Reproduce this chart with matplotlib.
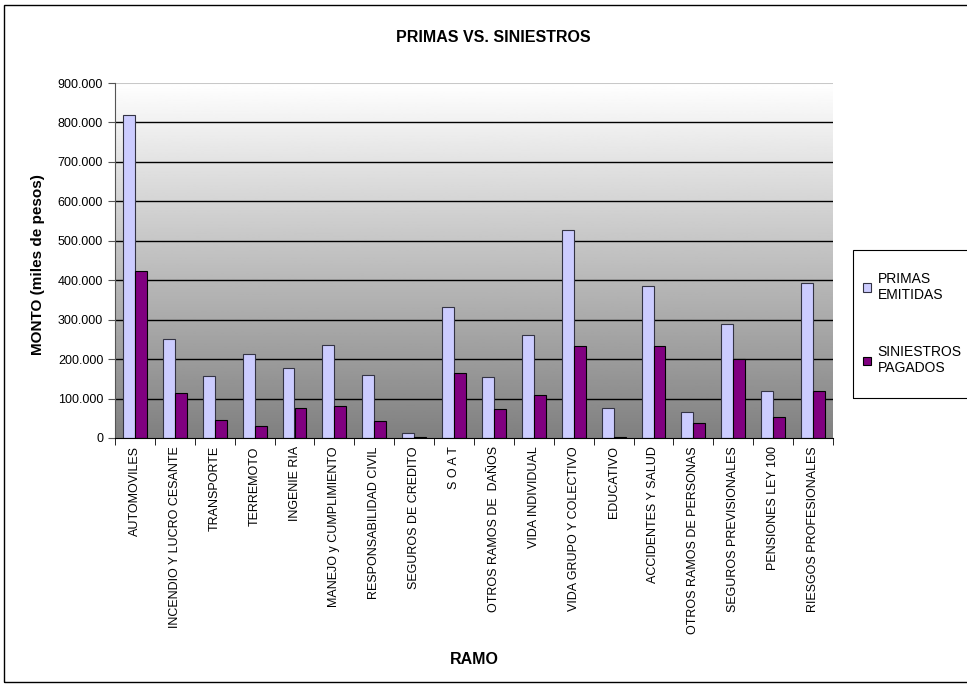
import numpy as np
import matplotlib
matplotlib.use("Agg")
import matplotlib.pyplot as plt
from matplotlib.ticker import FuncFormatter, FixedLocator
from matplotlib.patches import Rectangle

plt.rcParams['font.family'] = ['Liberation Sans', 'DejaVu Sans']

# datos (miles de pesos)
ramos = ["AUTOMOVILES", "INCENDIO Y LUCRO CESANTE", "TRANSPORTE", "TERREMOTO",
         "INGENIE RIA", "MANEJO y CUMPLIMIENTO", "RESPONSABILIDAD CIVIL",
         "SEGUROS DE CREDITO", "S O A T", "OTROS RAMOS DE  DAÑOS",
         "VIDA INDIVIDUAL", "VIDA GRUPO Y COLECTIVO", "EDUCATIVO",
         "ACCIDENTES Y SALUD", "OTROS RAMOS DE PERSONAS",
         "SEGUROS PREVISIONALES", "PENSIONES LEY 100", "RIESGOS PROFESIONALES"]
primas = [818000, 252000, 156000, 212000, 177000, 235000, 159000, 12000, 331000,
          154000, 261000, 528000, 75000, 386000, 65000, 288000, 119000, 394000]
siniestros = [424000, 114000, 46000, 30000, 76000, 81000, 43000, 2500, 165000,
              73500, 109000, 232000, 2500, 232000, 38000, 200000, 53000, 119000]

fig = plt.figure(figsize=(9.67, 6.87), dpi=100)
fig.patch.set_facecolor("white")

# marco exterior
fig.patches.append(Rectangle((4/967, 5/687), 1.2, 1 - 10/687, transform=fig.transFigure,
                             fill=False, edgecolor="black", linewidth=1.0))
# caja de la leyenda
fig.patches.append(Rectangle((853/967, 1 - 398/687), 0.3, 148/687, transform=fig.transFigure,
                             fill=False, edgecolor="black", linewidth=0.8))

ax = fig.add_axes([115/967, 1 - 438/687, 718/967, 355/687])
n = len(ramos)
x = np.arange(n)
w = 0.3

# fondo degradado
grad = np.linspace(1.0, 0.5, 256).reshape(-1, 1)
ax.imshow(grad, cmap="gray", vmin=0, vmax=1, aspect="auto",
          extent=[-0.5, n - 0.5, 0, 900000], zorder=0)

for yv in range(100000, 900000, 100000):
    ax.axhline(yv, color="black", linewidth=1.0, zorder=1)
ax.axhline(900000, color="#c8c8c8", linewidth=1.5, zorder=1)

ax.bar(x - w/2, primas, w, color="#ccccff", edgecolor="#333344", linewidth=0.8,
       label="PRIMAS\nEMITIDAS", zorder=2)
ax.bar(x + w/2, siniestros, w, color="#800080", edgecolor="black", linewidth=0.8,
       label="SINIESTROS\nPAGADOS", zorder=2)

ax.set_xlim(-0.5, n - 0.5)
ax.set_ylim(0, 900000)
ax.yaxis.set_major_locator(FixedLocator(range(0, 900001, 100000)))
ax.yaxis.set_major_formatter(FuncFormatter(lambda v, p: f"{int(v):,}".replace(",", ".")))

ax.set_xticks(x)
ax.set_xticklabels(ramos, rotation=90, fontsize=9)
ax.set_xticks(np.arange(-0.5, n, 1), minor=True)
ax.tick_params(axis="x", which="major", length=0, pad=6)
ax.tick_params(axis="x", which="minor", length=5, direction="out", color="black")
ax.tick_params(axis="y", labelsize=9, length=5, direction="out", color="#555555")

for s in ["top", "right"]:
    ax.spines[s].set_visible(False)
ax.spines["left"].set_color("#555555")
ax.spines["bottom"].set_color("black")

fig.text(493/967, 1 - 37/687, "PRIMAS VS. SINIESTROS", ha="center", va="center",
         fontsize=11.5, fontweight="bold")
fig.text(474/967, 1 - 660/687, "RAMO", ha="center", va="center",
         fontsize=11.5, fontweight="bold")
fig.text(38/967, 1 - 265/687, "MONTO (miles de pesos)", ha="center", va="center",
         rotation=90, fontsize=11, fontweight="bold")

leg = fig.legend(loc="upper left", bbox_to_anchor=(863/967, 1 - 272/687),
                 fontsize=10, frameon=False, handlelength=0.6, handleheight=0.6,
                 handletextpad=0.45, labelspacing=3.1, borderpad=0, borderaxespad=0)

fig.savefig("out.png", dpi=100)
